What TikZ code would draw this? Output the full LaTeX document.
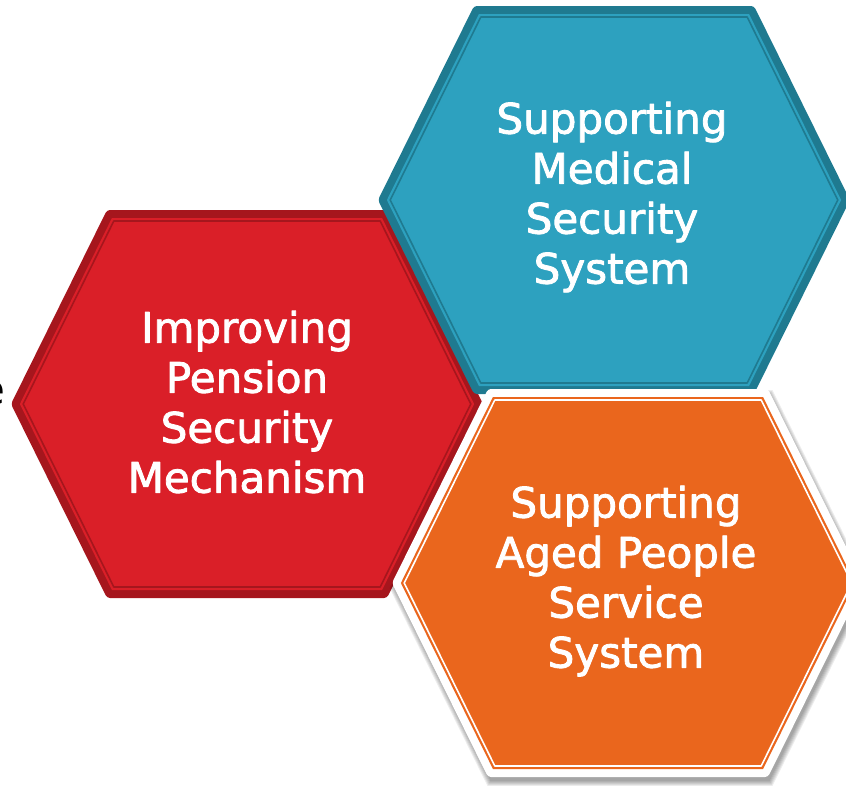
\documentclass[tikz,border=0pt]{standalone}
\usepackage{fontspec}
\setmainfont{DejaVu Sans}
\newfontfamily\hexfont[FakeBold=2]{DejaVu Sans}
\definecolor{redfill}{HTML}{DA1F28}
\definecolor{redline}{HTML}{A6161D}
\definecolor{bluefill}{HTML}{2DA1BF}
\definecolor{blueline}{HTML}{1F7A90}
\definecolor{orangefill}{HTML}{EA661D}
%% hexagon outline: centre x, centre y, inset
\newcommand{\hexpath}[3]{({#1-\hb+1.11*#3},#2) -- ({#1-\ha+0.62*#3},{#2-\hh+#3}) -- ({#1+\ha-0.62*#3},{#2-\hh+#3}) -- ({#1+\hb-1.11*#3},#2) -- ({#1+\ha-0.62*#3},{#2+\hh-#3}) -- ({#1-\ha+0.62*#3},{#2+\hh-#3}) -- cycle}
\begin{document}
\begin{tikzpicture}[x=1pt,y=-1pt,line join=round]
	\tikzset{hex text/.style={text=white,align=center,inner sep=0pt,font=\hexfont\fontsize{42}{50}\selectfont}}
	%%Kich thuoc luc giac
	\def \hh{194}
	\def \ha{140}
	\def \hb{236}
	\useasboundingbox (0,0) rectangle (846,785);
	%%O do
	\fill[redline,rounded corners=3] \hexpath{247}{404}{0};
	\fill[redfill] \hexpath{247}{404}{8};
	\draw[redline,line width=1.6] \hexpath{247}{404}{11};
	%%O xanh
	\fill[blueline,rounded corners=3] \hexpath{614}{200}{0};
	\fill[bluefill] \hexpath{614}{200}{8};
	\draw[blueline,line width=1.6] \hexpath{614}{200}{11};
	%%O cam, co bong
	\foreach \s in {0,...,5}
		\fill[black,opacity=0.07] \hexpath{630}{588}{(1-\s)};
	\fill[white,rounded corners=3] \hexpath{628}{583}{0};
	\fill[orangefill] \hexpath{628}{583}{8};
	\draw[white,line width=1.6] \hexpath{628}{583}{11};
	%%Chu
	\node[anchor=east,inner sep=0pt,font=\fontsize{42}{50}\selectfont] (cut) at (6,393) {e};
	\node[hex text] (pension) at (247,402) {Improving\\Pension\\Security\\Mechanism};
	\node[hex text] (medical) at (612,197) {Supporting\\Medical\\Security\\System};
	\node[hex text] (aged) at (626,581) {Supporting\\Aged People\\Service\\System};
\end{tikzpicture}
\end{document}
